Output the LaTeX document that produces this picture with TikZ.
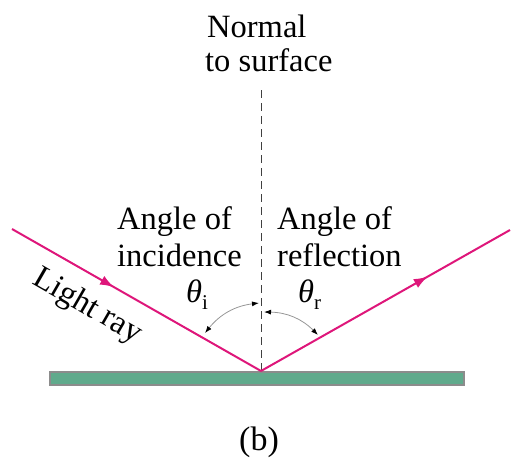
\documentclass[tikz,border=0pt]{standalone}
\usepackage{fontspec}
\setmainfont{Liberation Serif}
\usetikzlibrary{arrows.meta,decorations.markings}
\definecolor{raycol}{RGB}{222,22,122}
\definecolor{surfcol}{RGB}{96,170,140}
\definecolor{arccol}{RGB}{150,150,150}
\tikzset{
  lbl/.style={font=\fontsize{32.5}{37}\selectfont, inner sep=0pt, anchor=base west},
  ray/.style={draw=raycol, line width=2pt},
  normalline/.style={draw=black!75, line width=1pt, dash pattern=on 8pt off 5pt},
  anglearc/.style={draw=arccol, line width=0.8pt, {Latex[length=7pt,width=5pt,black]}-{Latex[length=7pt,width=5pt,black]}},
  surf/.style={fill=surfcol, draw=black!45, line width=1.2pt},
  midarrow/.style={postaction={decorate}, decoration={markings, mark=at position #1 with {\arrow{Latex[length=14pt,width=10pt]}}}}
}
\begin{document}
\begin{tikzpicture}[x=1pt,y=1pt]
\useasboundingbox (0,0) rectangle (518,457);
% surface
\path[surf] (50,72) rectangle (464,85);
% key points
\coordinate (V) at (261,86);
\coordinate (A) at (12,228);
\coordinate (B) at (510,227);
\coordinate (N) at (261,369);
% normal
\draw[normalline] (V) -- (N);
% rays
\draw[ray, midarrow=0.41, raycol] (A) -- (V);
\draw[ray, midarrow=0.67, raycol] (V) -- (B);
% angle arcs
\coordinate (li) at (205,124);
\coordinate (ln) at (259,154);
\coordinate (rr) at (318,122);
\coordinate (rn) at (264,145);
\draw[anglearc] (li) to[bend left=22] (ln);
\draw[anglearc] (rn) to[bend left=22] (rr);
% labels
\node[lbl] (n1) at (207,419) {Normal};
\node[lbl] (n2) at (205,385) {to surface};
\node[lbl] (i1) at (117,227) {Angle of};
\node[lbl] (i2) at (117,190) {incidence};
\node[lbl] (r1) at (277,227) {Angle of};
\node[lbl] (r2) at (277,190) {reflection};
\node[lbl] (ti) at (186,154) {\textit{θ}\raisebox{-7pt}{\fontsize{21}{21}\selectfont i}};
\node[lbl] (tr) at (298,154) {\textit{θ}\raisebox{-7pt}{\fontsize{21}{21}\selectfont r}};
\node[font=\fontsize{32.5}{37}\selectfont, inner sep=0pt, rotate=-30] (lr) at (87,150) {Light ray};
\node[font=\fontsize{34}{37}\selectfont, inner sep=0pt, anchor=base] (b) at (259,7) {(b)};
\end{tikzpicture}
\end{document}
